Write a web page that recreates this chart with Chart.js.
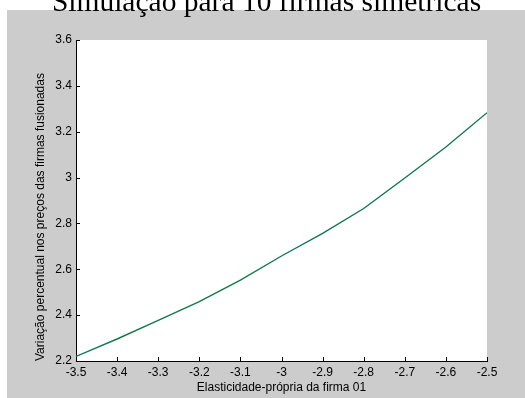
<!DOCTYPE html>
<html>
<head>
<meta charset="utf-8">
<script src="https://cdn.jsdelivr.net/npm/chart.js@4/dist/chart.umd.min.js"></script>
<style>
  html, body { margin: 0; padding: 0; background: #ffffff; overflow: hidden; }
  canvas { display: block; }
</style>
</head>
<body>
<canvas id="chart" width="525" height="398"></canvas>
<script>
// Texts
const chartTitle = 'Simulação para 10 firmas simétricas';
const xAxisTitle = 'Elasticidade-própria da firma 01';
const yAxisTitle = 'Variação percentual nos preços das firmas fusionadas';

// Own-price elasticity of firm 01 and resulting % price change of the merged firms
const elasticities = [-3.5, -3.4, -3.3, -3.2, -3.1, -3.0, -2.9, -2.8, -2.7, -2.6, -2.5];
const priceChange  = [2.220, 2.296, 2.377, 2.459, 2.553, 2.658, 2.757, 2.865, 2.998, 3.133, 3.283];

// Tick labels
const xTicks = [-3.5, -3.4, -3.3, -3.2, -3.1, -3, -2.9, -2.8, -2.7, -2.6, -2.5];
const yTicks = [2.2, 2.4, 2.6, 2.8, 3, 3.2, 3.4, 3.6];

const FIG_BG = '#cccccc';
const LINE_COLOR = '#107850';
const SANS = '"Liberation Sans", Arial, sans-serif';

// Grey figure background, white axes box, inward tick marks and the figure title
const figurePlugin = {
  id: 'figure',
  beforeDraw(chart) {
    const { ctx, chartArea: a } = chart;
    ctx.save();
    ctx.fillStyle = '#ffffff';
    ctx.fillRect(0, 0, chart.width, chart.height);
    ctx.fillStyle = FIG_BG;
    ctx.fillRect(7, 10, chart.width - 7, chart.height - 10);
    ctx.fillStyle = '#ffffff';
    ctx.fillRect(a.left, a.top, a.right - a.left, a.bottom - a.top);
    ctx.restore();
  },
  afterDraw(chart) {
    const { ctx, chartArea: a, scales } = chart;
    ctx.save();
    ctx.strokeStyle = '#000000';
    ctx.lineWidth = 1;
    ctx.beginPath();
    scales.x.ticks.forEach(t => {
      const px = Math.round(scales.x.getPixelForValue(t.value)) + 0.5;
      ctx.moveTo(px, a.bottom);
      ctx.lineTo(px, a.bottom - 4);
    });
    scales.y.ticks.forEach(t => {
      const py = Math.round(scales.y.getPixelForValue(t.value)) + 0.5;
      ctx.moveTo(a.left, py);
      ctx.lineTo(a.left + 4, py);
    });
    ctx.stroke();

    ctx.fillStyle = '#000000';
    ctx.font = '29.5px "Liberation Serif", "Times New Roman", serif';
    ctx.textAlign = 'center';
    ctx.textBaseline = 'alphabetic';
    ctx.fillText(chartTitle, 266.5, 11);
    ctx.restore();
  }
};

new Chart(document.getElementById('chart'), {
  type: 'line',
  data: {
    datasets: [{
      data: elasticities.map((e, i) => ({ x: e, y: priceChange[i] })),
      borderColor: LINE_COLOR,
      borderWidth: 1.4,
      pointRadius: 0,
      tension: 0,
      fill: false
    }]
  },
  options: {
    responsive: false,
    animation: false,
    events: [],
    layout: { padding: { left: 0, top: 40, right: 38, bottom: 0 } },
    plugins: { legend: { display: false }, tooltip: { enabled: false }, title: { display: false } },
    scales: {
      x: {
        type: 'linear',
        min: -3.5,
        max: -2.5,
        afterBuildTicks: s => { s.ticks = xTicks.map(v => ({ value: v })); },
        afterFit: s => { s.height = 37; },
        grid: { display: false, drawTicks: false },
        border: { display: true, color: '#000000', width: 1 },
        ticks: {
          padding: 4,
          maxRotation: 0,
          autoSkip: false,
          color: '#000000',
          font: { family: SANS, size: 12 },
          callback: v => String(Math.round(v * 10) / 10)
        },
        title: {
          display: true,
          text: xAxisTitle,
          color: '#000000',
          font: { family: SANS, size: 12 },
          padding: { top: 0, bottom: 3 }
        }
      },
      y: {
        type: 'linear',
        min: 2.2,
        max: 3.6,
        afterBuildTicks: s => { s.ticks = yTicks.map(v => ({ value: v })); },
        afterFit: s => { s.width = 76; },
        grid: { display: false, drawTicks: false },
        border: { display: true, color: '#000000', width: 1 },
        ticks: {
          padding: 4,
          autoSkip: false,
          color: '#000000',
          font: { family: SANS, size: 12 },
          callback: v => String(Math.round(v * 10) / 10)
        },
        title: {
          display: true,
          text: yAxisTitle,
          align: 'start',
          color: '#000000',
          font: { family: SANS, size: 12 },
          padding: { top: 33, bottom: 0 }
        }
      }
    }
  },
  plugins: [figurePlugin]
});
</script>
</body>
</html>
